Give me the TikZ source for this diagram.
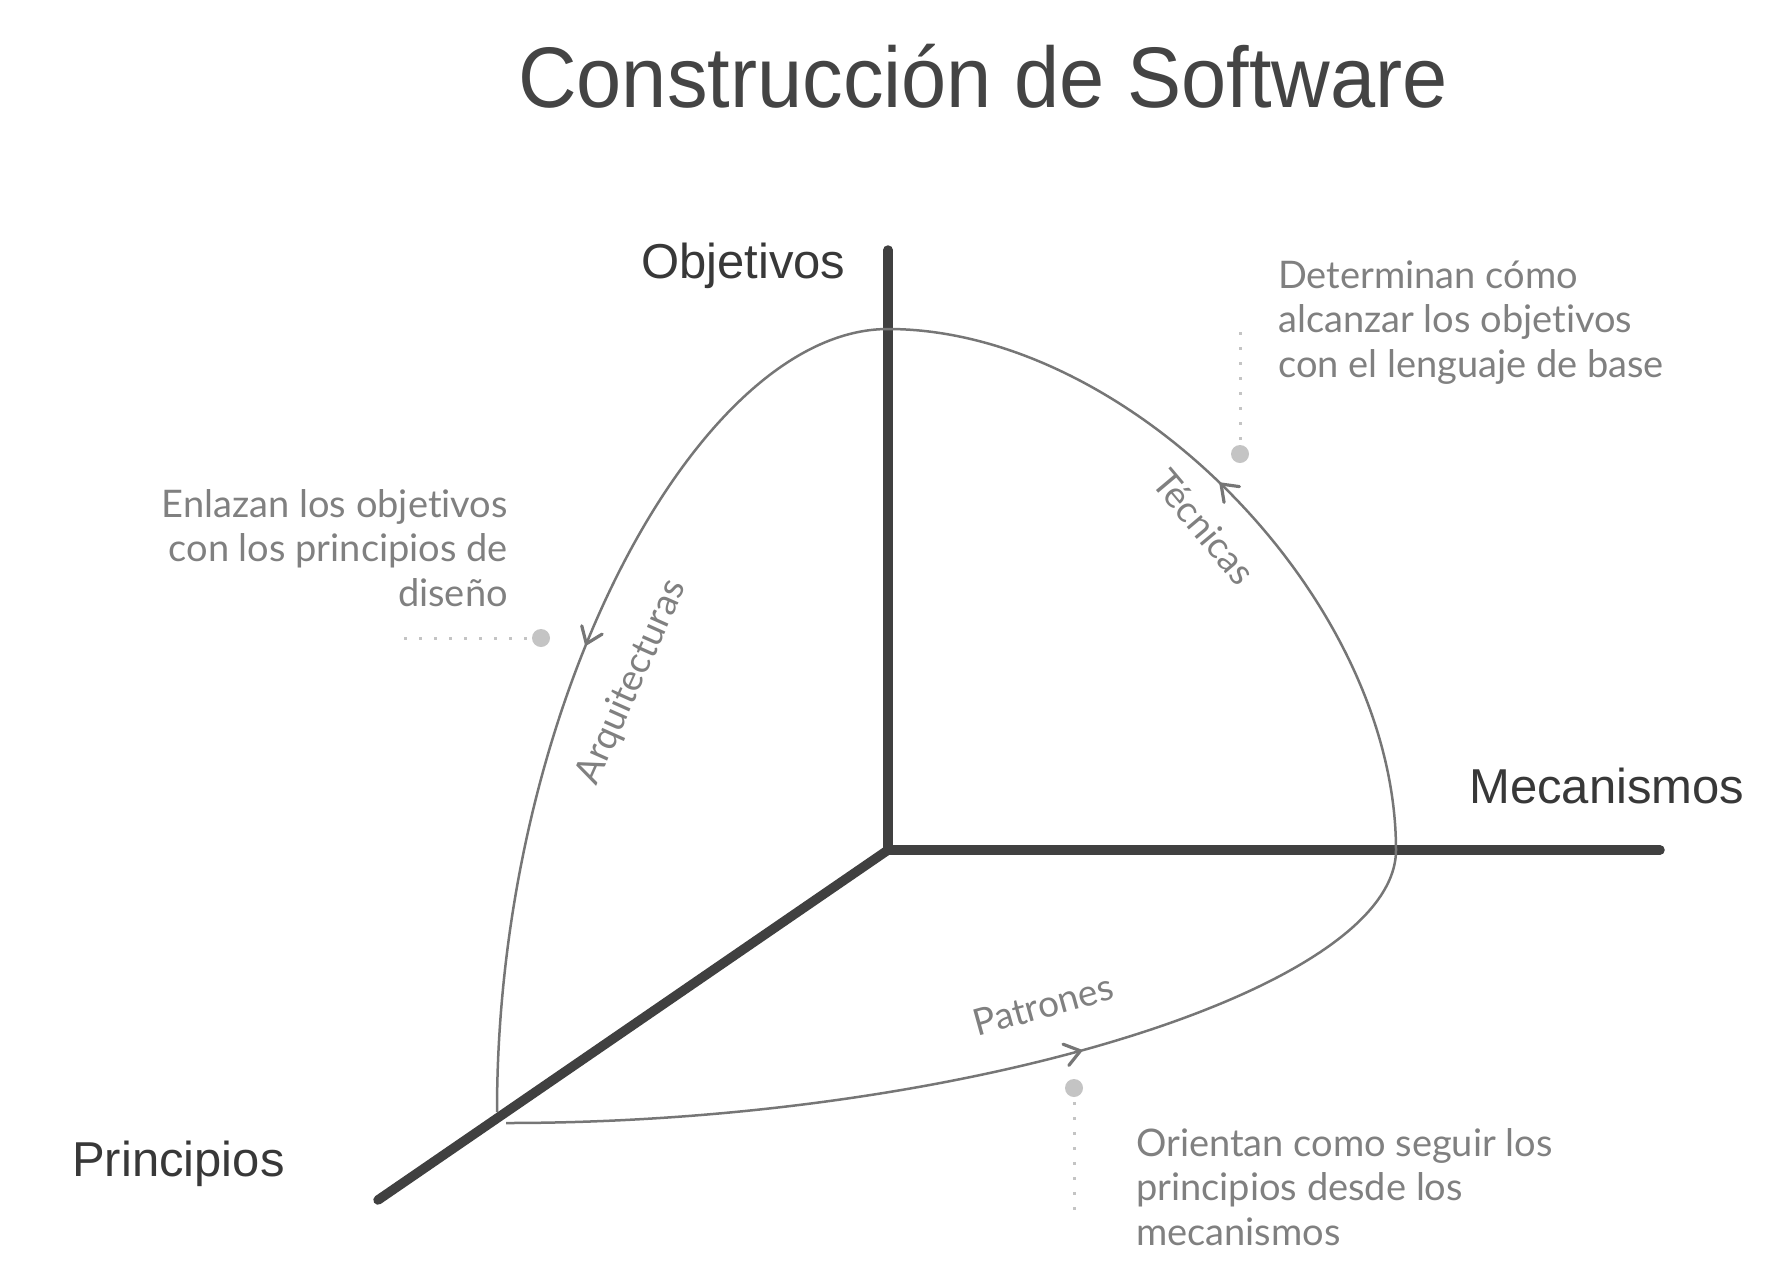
\documentclass[tikz,border=0pt]{standalone}
\usepackage{fontspec}
\setmainfont{Liberation Sans}
\newfontfamily\notefont[Ligatures={NoCommon,NoRare}]{Lato}
\usetikzlibrary{arrows.meta}
\definecolor{axiscol}{HTML}{404040}
\definecolor{labelcol}{HTML}{383838}
\definecolor{titlecol}{HTML}{444444}
\definecolor{curvecol}{HTML}{767676}
\definecolor{notecol}{HTML}{808080}
\definecolor{dotcol}{HTML}{C4C4C4}
\newcommand\leftlines[3]{\vtop{\baselineskip=44.5pt\lineskiplimit=-100pt\hbox{#1}\hbox{#2}\hbox{#3}}}
\newcommand\rightlines[3]{\vtop{\baselineskip=44.5pt\lineskiplimit=-100pt\hbox to 420pt{\hfill#1}\hbox to 420pt{\hfill#2}\hbox to 420pt{\hfill#3}}}
\begin{document}
\begin{tikzpicture}[x=1pt,y=-1pt,
  axisline/.style={line width=9.5pt, draw=axiscol, line cap=round},
  flow/.style={line width=2.5pt, draw=curvecol},
  axislabel/.style={font=\fontsize{49}{58}\selectfont, text=labelcol, inner sep=0pt},
  note/.style={font=\notefont\fontsize{38}{44}\selectfont, text=notecol, inner sep=0pt},
  curvelabel/.style={font=\notefont\fontsize{37}{44}\selectfont, text=notecol, inner sep=0pt},
  leader/.style={draw=dotcol, line width=3pt, dash pattern=on 3pt off 12pt},
  pin/.style={circle, fill=dotcol, minimum size=18pt, inner sep=0pt},
  tipmark/.style={sloped, allow upside down, anchor=east, rectangle, minimum width=15pt, minimum height=22pt, inner sep=0pt, outer sep=0pt},
  tipdraw/.style={line width=3.2pt, draw=curvecol, line cap=round, line join=round}
]
\useasboundingbox (0,0) rectangle (1792,1278);
% title
\node[anchor=base west, inner sep=0pt, font=\fontsize{86}{100}\selectfont, text=titlecol] (title) at (518,107) {\scalebox{0.944}[1]{Construcción de Software}};
% coordinates
\coordinate (O) at (888,850);
\coordinate (ytop) at (888,250);
\coordinate (xend) at (1660,850);
\coordinate (zend) at (378,1200);
\coordinate (T) at (888,329);
\coordinate (M) at (1396,850);
\coordinate (P) at (497,1112);
\coordinate (B) at (506,1123);
% axes
\draw[axisline] (ytop) -- (O) -- (xend);
\draw[axisline] (O) -- (zend);
% flow curves
\draw[flow] (T) .. controls (700,329) and (497,700) .. (P) node[tipmark, pos=0.585] (a1) {};
\draw[flow] (M) .. controls (1396,600) and (1130,329) .. (T) node[tipmark, pos=0.52] (a2) {};
\draw[flow] (B) .. controls (960,1123) and (1396,990) .. (M) node[tipmark, pos=0.46] (a3) {};
\draw[tipdraw] (a1.north west) -- (a1.east) -- (a1.south west);
\draw[tipdraw] (a2.north west) -- (a2.east) -- (a2.south west);
\draw[tipdraw] (a3.north west) -- (a3.east) -- (a3.south west);
% curve labels
\node[curvelabel, rotate=66] (arq) at (632,682) {Arquitecturas};
\node[curvelabel, rotate=-50] (tec) at (1204,527) {Técnicas};
\node[curvelabel, rotate=15.5] (pat) at (1043,1005) {Patrones};
% axis labels
\node[axislabel, anchor=base west] (objetivos) at (641,278) {Objetivos};
\node[axislabel, anchor=base west] (mecanismos) at (1469,803) {Mecanismos};
\node[axislabel, anchor=base west] (principios) at (72,1176) {Principios};
% annotation pins and leaders
\node[pin] (d1) at (1240,454) {};
\node[pin] (d2) at (541,638) {};
\node[pin] (d3) at (1074,1088) {};
\coordinate (l1) at (1240,326);
\coordinate (l2) at (403,638);
\coordinate (l3) at (1074,1219);
\draw[leader] ([yshift=5pt]d1.north) -- (l1);
\draw[leader] ([xshift=-5pt]d2.west) -- (l2);
\draw[leader] ([yshift=-5pt]d3.south) -- (l3);
% annotation texts
\node[note, anchor=base west] (n1) at (1278,288) {\leftlines{Determinan cómo}{alcanzar los objetivos}{con el lenguaje de base}};
\node[note, anchor=base east] (n2) at (508,517) {\rightlines{Enlazan los objetivos}{con los principios de}{diseño}};
\node[note, anchor=base west] (n3) at (1136,1156) {\leftlines{Orientan como seguir los}{principios desde los}{mecanismos}};
\end{tikzpicture}
\end{document}
